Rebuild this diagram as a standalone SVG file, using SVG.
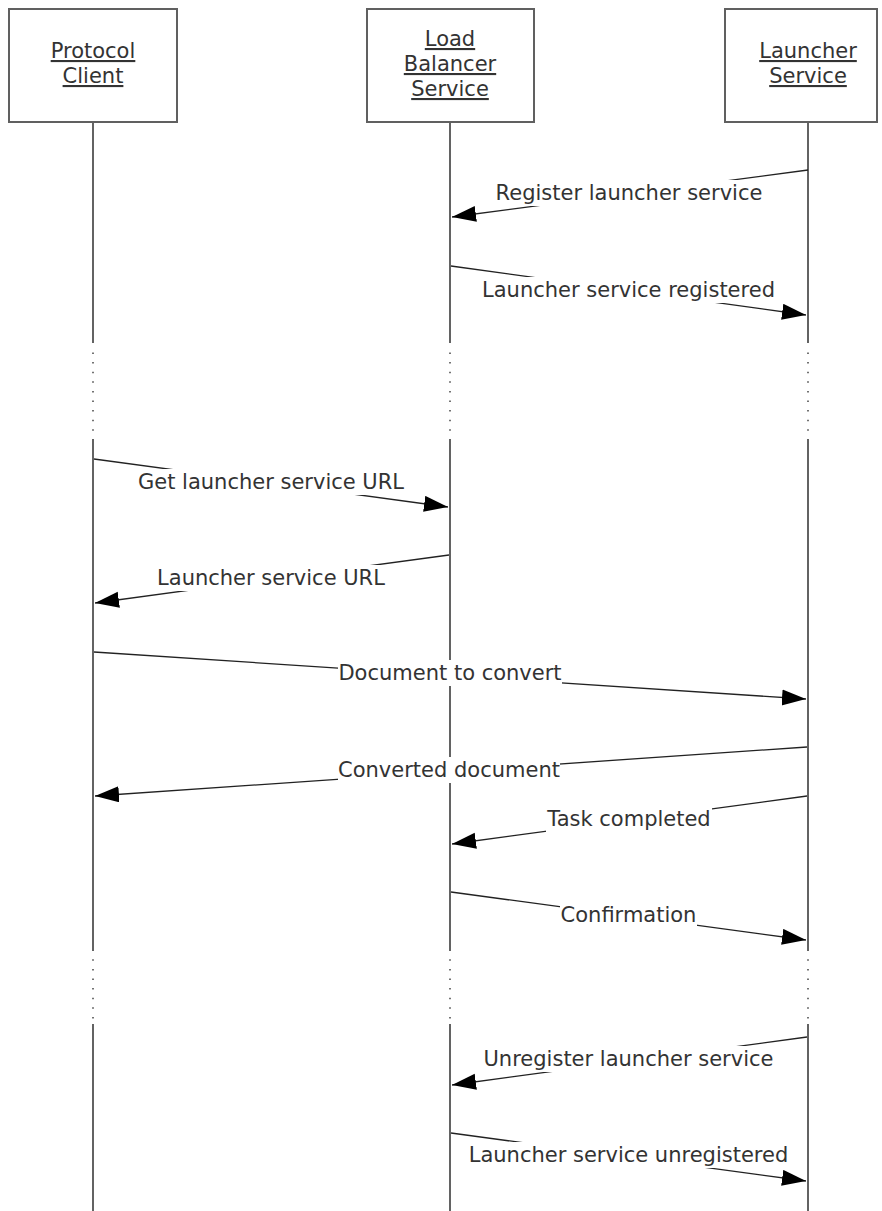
<svg xmlns="http://www.w3.org/2000/svg" width="882" height="1211" viewBox="0 0 882 1211">
<style>
.box{fill:#fff;stroke:#606060;stroke-width:2}
.hdr{font-family:"DejaVu Sans",Verdana,sans-serif;font-size:21px;fill:#333;text-anchor:middle;text-decoration:underline}
.life{stroke:#222;stroke-width:1.4;fill:none}
.dot{stroke:#444;stroke-width:1.5;stroke-dasharray:1.5 8.1;fill:none}
.msg{stroke:#222;stroke-width:1.3;fill:none;marker-end:url(#ah)}
.lbl{font-family:"DejaVu Sans",Verdana,sans-serif;font-size:21px;fill:#333;text-anchor:middle}
.bg{fill:#fff}
</style>
<defs>
<marker id="ah" markerUnits="userSpaceOnUse" markerWidth="26" markerHeight="18" refX="24" refY="8" orient="auto">
<path d="M0,0 L24,8 L0,16 z" fill="#000"/>
</marker>
</defs>
<rect width="882" height="1211" fill="#fff"/>
<g id="lifelines">
<path class="life" d="M93,122V343M93,439V951M93,1024V1211"/>
<path class="dot" d="M93,352.5V432M93,959.3V1020"/>
<path class="life" d="M450,122V343M450,439V951M450,1024V1211"/>
<path class="dot" d="M450,352.5V432M450,959.3V1020"/>
<path class="life" d="M808,122V343M808,439V951M808,1024V1211"/>
<path class="dot" d="M808,352.5V432M808,959.3V1020"/>
</g>
<g id="protocol-client">
<rect class="box" x="9" y="9" width="168" height="113"/>
<text class="hdr" x="93" y="58">Protocol</text>
<text class="hdr" x="93" y="83">Client</text>
</g>
<g id="load-balancer-service">
<rect class="box" x="367" y="9" width="167" height="113"/>
<text class="hdr" x="450" y="46">Load</text>
<text class="hdr" x="450" y="71">Balancer</text>
<text class="hdr" x="450" y="96">Service</text>
</g>
<g id="launcher-service">
<rect class="box" x="725" y="9" width="152" height="113"/>
<text class="hdr" x="808" y="58">Launcher</text>
<text class="hdr" x="808" y="83">Service</text>
</g>
<g id="connectors">
<path class="msg" d="M808,170L452,217"/>
<path class="msg" d="M451,266L806,315"/>
<path class="msg" d="M94,459L448,507"/>
<path class="msg" d="M449,555L95,603"/>
<path class="msg" d="M94,652L806,699"/>
<path class="msg" d="M807,747L95,796"/>
<path class="msg" d="M807,796L452,844"/>
<path class="msg" d="M451,892L806,940"/>
<path class="msg" d="M807,1037L452,1085"/>
<path class="msg" d="M451,1133L806,1181"/>
</g>
<g id="labels">
<rect class="bg" x="495" y="180" width="268" height="26"/>
<text class="lbl" x="629" y="200">Register launcher service</text>
<rect class="bg" x="482" y="277" width="293" height="26"/>
<text class="lbl" x="628.5" y="297">Launcher service registered</text>
<rect class="bg" x="137" y="469" width="268" height="26"/>
<text class="lbl" x="271" y="489">Get launcher service URL</text>
<rect class="bg" x="157" y="565" width="228" height="26"/>
<text class="lbl" x="271" y="585">Launcher service URL</text>
<rect class="bg" x="338" y="660" width="224" height="26"/>
<text class="lbl" x="450" y="680">Document to convert</text>
<rect class="bg" x="338" y="757" width="222" height="26"/>
<text class="lbl" x="449" y="777">Converted document</text>
<rect class="bg" x="546" y="806" width="166" height="26"/>
<text class="lbl" x="629" y="826">Task completed</text>
<rect class="bg" x="560" y="902" width="137" height="26"/>
<text class="lbl" x="628.5" y="922">Confirmation</text>
<rect class="bg" x="483" y="1046" width="291" height="26"/>
<text class="lbl" x="628.5" y="1066">Unregister launcher service</text>
<rect class="bg" x="468" y="1142" width="321" height="26"/>
<text class="lbl" x="628.5" y="1162">Launcher service unregistered</text>
</g>
</svg>
